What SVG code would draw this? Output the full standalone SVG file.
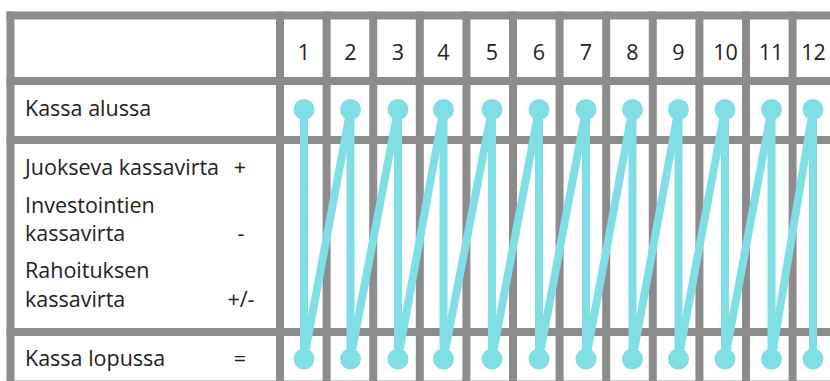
<svg xmlns="http://www.w3.org/2000/svg" width="830" height="381" viewBox="0 0 830 381">
<style>
.grid line{stroke:#8c8c8c;stroke-width:8}
.t{font-family:"Open Sans","Noto Sans","Liberation Sans",sans-serif;font-size:21.5px;fill:#222}
.n{text-anchor:middle}
.c{stroke:#80dfe5;stroke-width:8;stroke-linecap:round}
.dot{fill:#80dfe5}
</style>
<rect width="830" height="381" fill="#ffffff"/>
<g id="grid" class="grid">
<line x1="6.5" y1="15.5" x2="830" y2="15.5"/>
<line x1="6.5" y1="81" x2="830" y2="81"/>
<line x1="6.5" y1="140" x2="830" y2="140"/>
<line x1="6.5" y1="332" x2="830" y2="332"/>
<line x1="6.5" y1="384.5" x2="830" y2="384.5"/>
<line x1="10.5" y1="11.5" x2="10.5" y2="390"/>
<line x1="280" y1="11.5" x2="280" y2="390"/>
<line x1="326.6" y1="11.5" x2="326.6" y2="390"/>
<line x1="373.2" y1="11.5" x2="373.2" y2="390"/>
<line x1="419.8" y1="11.5" x2="419.8" y2="390"/>
<line x1="466.4" y1="11.5" x2="466.4" y2="390"/>
<line x1="513" y1="11.5" x2="513" y2="390"/>
<line x1="559.6" y1="11.5" x2="559.6" y2="390"/>
<line x1="606.2" y1="11.5" x2="606.2" y2="390"/>
<line x1="652.8" y1="11.5" x2="652.8" y2="390"/>
<line x1="699.4" y1="11.5" x2="699.4" y2="390"/>
<line x1="746" y1="11.5" x2="746" y2="390"/>
<line x1="792.6" y1="11.5" x2="792.6" y2="390"/>
</g>
<g id="headers" class="t n">
<text x="304" y="60">1</text>
<text x="350.5" y="60">2</text>
<text x="398" y="60">3</text>
<text x="443.5" y="60">4</text>
<text x="492" y="60">5</text>
<text x="539" y="60">6</text>
<text x="586" y="60">7</text>
<text x="632.5" y="60">8</text>
<text x="678.5" y="60">9</text>
<text x="725.5" y="60">10</text>
<text x="771" y="60">11</text>
<text x="813.5" y="60">12</text>
</g>
<g id="labels" class="t">
<text x="25" y="116">Kassa alussa</text>
<text x="25" y="175">Juokseva kassavirta</text>
<text x="240" y="175" class="n">+</text>
<text x="25" y="212.5">Investointien</text>
<text x="25" y="241">kassavirta</text>
<text x="241" y="241" class="n">-</text>
<text x="25" y="278">Rahoituksen</text>
<text x="25" y="306.5">kassavirta</text>
<text x="241" y="306.5" class="n">+/-</text>
<text x="25" y="366">Kassa lopussa</text>
<text x="240" y="366" class="n">=</text>
</g>
<g id="connectors" class="c">
<line x1="304" y1="109.5" x2="304" y2="359"/>
<line x1="304" y1="359" x2="350.5" y2="109.5"/>
<line x1="350.5" y1="109.5" x2="350.5" y2="359"/>
<line x1="350.5" y1="359" x2="398" y2="109.5"/>
<line x1="398" y1="109.5" x2="398" y2="359"/>
<line x1="398" y1="359" x2="443.5" y2="109.5"/>
<line x1="443.5" y1="109.5" x2="443.5" y2="359"/>
<line x1="443.5" y1="359" x2="492" y2="109.5"/>
<line x1="492" y1="109.5" x2="492" y2="359"/>
<line x1="492" y1="359" x2="539" y2="109.5"/>
<line x1="539" y1="109.5" x2="539" y2="359"/>
<line x1="539" y1="359" x2="586" y2="109.5"/>
<line x1="586" y1="109.5" x2="586" y2="359"/>
<line x1="586" y1="359" x2="632.5" y2="109.5"/>
<line x1="632.5" y1="109.5" x2="632.5" y2="359"/>
<line x1="632.5" y1="359" x2="678.5" y2="109.5"/>
<line x1="678.5" y1="109.5" x2="678.5" y2="359"/>
<line x1="678.5" y1="359" x2="725" y2="109.5"/>
<line x1="725" y1="109.5" x2="725" y2="359"/>
<line x1="725" y1="359" x2="771.5" y2="109.5"/>
<line x1="771.5" y1="109.5" x2="771.5" y2="359"/>
<line x1="771.5" y1="359" x2="813" y2="109.5"/>
<line x1="813" y1="109.5" x2="813" y2="359"/>
</g>
<g id="start-1" class="dot"><circle cx="304" cy="109.5" r="10.5"/></g>
<g id="start-2" class="dot"><circle cx="350.5" cy="109.5" r="10.5"/></g>
<g id="start-3" class="dot"><circle cx="398" cy="109.5" r="10.5"/></g>
<g id="start-4" class="dot"><circle cx="443.5" cy="109.5" r="10.5"/></g>
<g id="start-5" class="dot"><circle cx="492" cy="109.5" r="10.5"/></g>
<g id="start-6" class="dot"><circle cx="539" cy="109.5" r="10.5"/></g>
<g id="start-7" class="dot"><circle cx="586" cy="109.5" r="10.5"/></g>
<g id="start-8" class="dot"><circle cx="632.5" cy="109.5" r="10.5"/></g>
<g id="start-9" class="dot"><circle cx="678.5" cy="109.5" r="10.5"/></g>
<g id="start-10" class="dot"><circle cx="725" cy="109.5" r="10.5"/></g>
<g id="start-11" class="dot"><circle cx="771.5" cy="109.5" r="10.5"/></g>
<g id="start-12" class="dot"><circle cx="813" cy="109.5" r="10.5"/></g>
<g id="end-1" class="dot"><circle cx="304" cy="359" r="10.5"/></g>
<g id="end-2" class="dot"><circle cx="350.5" cy="359" r="10.5"/></g>
<g id="end-3" class="dot"><circle cx="398" cy="359" r="10.5"/></g>
<g id="end-4" class="dot"><circle cx="443.5" cy="359" r="10.5"/></g>
<g id="end-5" class="dot"><circle cx="492" cy="359" r="10.5"/></g>
<g id="end-6" class="dot"><circle cx="539" cy="359" r="10.5"/></g>
<g id="end-7" class="dot"><circle cx="586" cy="359" r="10.5"/></g>
<g id="end-8" class="dot"><circle cx="632.5" cy="359" r="10.5"/></g>
<g id="end-9" class="dot"><circle cx="678.5" cy="359" r="10.5"/></g>
<g id="end-10" class="dot"><circle cx="725" cy="359" r="10.5"/></g>
<g id="end-11" class="dot"><circle cx="771.5" cy="359" r="10.5"/></g>
<g id="end-12" class="dot"><circle cx="813" cy="359" r="10.5"/></g>
</svg>
